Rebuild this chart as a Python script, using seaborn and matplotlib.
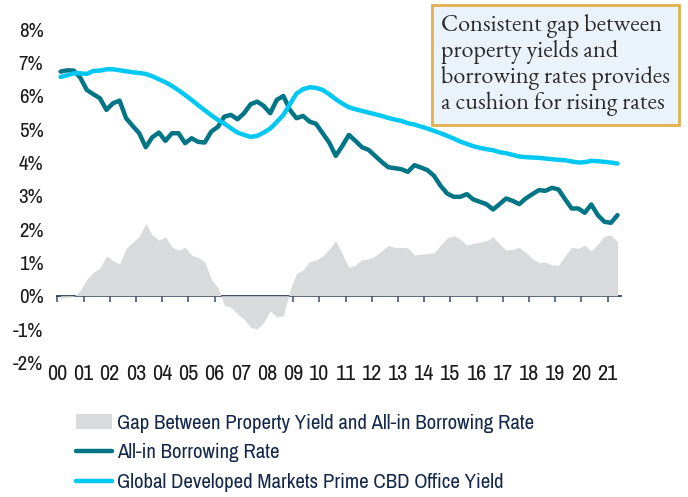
import numpy as np
import pandas as pd
import seaborn as sns
import matplotlib.pyplot as plt
from matplotlib.patches import Patch
from matplotlib.lines import Line2D

# quarterly series 2000Q1 - 2021Q2 (values in %)
quarters = 2000.125 + 0.25 * np.arange(86)

borrowing_rate = [
    6.73, 6.77, 6.76, 6.55,  # 2000
    6.18, 6.05, 5.93, 5.58,  # 2001
    5.78, 5.86, 5.33, 5.10,  # 2002
    4.88, 4.46, 4.76, 4.90,  # 2003
    4.65, 4.88, 4.88, 4.58,  # 2004
    4.73, 4.62, 4.60, 4.93,  # 2005
    5.07, 5.38, 5.43, 5.30,  # 2006
    5.48, 5.75, 5.83, 5.70,  # 2007
    5.48, 5.88, 6.00, 5.58,  # 2008
    5.33, 5.40, 5.23, 5.16,  # 2009
    4.88, 4.60, 4.20, 4.50,  # 2010
    4.83, 4.65, 4.46, 4.38,  # 2011
    4.20, 4.02, 3.86, 3.83,  # 2012
    3.80, 3.72, 3.92, 3.85,  # 2013
    3.77, 3.60, 3.30, 3.07,  # 2014
    2.97, 2.97, 3.05, 2.89,  # 2015
    2.82, 2.75, 2.59, 2.75,  # 2016
    2.92, 2.85, 2.75, 2.92,  # 2017
    3.05, 3.17, 3.15, 3.24,  # 2018
    3.19, 2.90, 2.62, 2.62,  # 2019
    2.49, 2.74, 2.42, 2.22,  # 2020
    2.19, 2.42,              # 2021
]

office_yield = [
    6.57, 6.62, 6.68, 6.68,
    6.66, 6.75, 6.76, 6.80,
    6.80, 6.77, 6.74, 6.71,
    6.69, 6.66, 6.59, 6.50,
    6.41, 6.30, 6.17, 6.03,
    5.88, 5.72, 5.57, 5.42,
    5.28, 5.17, 5.03, 4.90,
    4.83, 4.77, 4.80, 4.90,
    5.02, 5.22, 5.43, 5.75,
    6.07, 6.20, 6.26, 6.24,
    6.18, 6.05, 5.90, 5.77,
    5.66, 5.60, 5.55, 5.50,
    5.45, 5.40, 5.34, 5.29,
    5.25, 5.18, 5.14, 5.08,
    5.02, 4.95, 4.88, 4.80,
    4.72, 4.63, 4.56, 4.49,
    4.44, 4.40, 4.37, 4.31,
    4.28, 4.23, 4.18, 4.16,
    4.15, 4.14, 4.12, 4.10,
    4.08, 4.07, 4.03, 4.00,
    4.01, 4.05, 4.04, 4.02,
    4.00, 3.97,
]

gap = [
    -0.08, -0.05, -0.02, 0.15,
    0.49, 0.70, 0.83, 1.19,
    1.05, 0.95, 1.42, 1.60,
    1.78, 2.17, 1.82, 1.67,
    1.77, 1.47, 1.37, 1.45,
    1.22, 1.15, 1.02, 0.50,
    0.25, -0.28, -0.35, -0.55,
    -0.70, -0.95, -1.00, -0.80,
    -0.46, -0.63, -0.60, 0.15,
    0.67, 0.77, 1.02, 1.07,
    1.19, 1.40, 1.66, 1.25,
    0.85, 0.92, 1.09, 1.10,
    1.19, 1.35, 1.51, 1.45,
    1.45, 1.44, 1.22, 1.25,
    1.26, 1.29, 1.52, 1.74,
    1.80, 1.70, 1.52, 1.57,
    1.61, 1.65, 1.77, 1.55,
    1.37, 1.39, 1.45, 1.30,
    1.12, 0.99, 1.01, 0.92,
    0.92, 1.20, 1.45, 1.42,
    1.52, 1.34, 1.55, 1.79,
    1.82, 1.62,
]

years = list(range(2000, 2022))
year_labels = [f"{y % 100:02d}" for y in years]
y_ticks = list(range(-2, 9))
y_labels = [f"{t}%" for t in y_ticks]

gap_label = 'Gap Between Property Yield and All-in Borrowing Rate'
borrow_label = 'All-in Borrowing Rate'
yield_label = 'Global Developed Markets Prime CBD Office Yield'
note = ('Consistent gap between\nproperty yields and\n'
        'borrowing rates provides\na cushion for rising rates')

df = pd.DataFrame({'quarter': quarters, 'borrow': borrowing_rate,
                   'yield': office_yield, 'gap': gap})

sns.set_theme(style='white')
plt.rcParams['font.family'] = ['Archivo Narrow', 'Liberation Sans', 'DejaVu Sans']

c_borrow = '#007586'
c_yield = '#00C8F2'
c_gap = '#D9DADC'
c_axis = '#1C2E4E'
c_text = '#1A1A1A'

fig = plt.figure(figsize=(6.88, 4.97), dpi=100)
ax = fig.add_axes([0.0833, 0.271, 0.819, 0.670])

ax.fill_between(df['quarter'], df['gap'], 0, color=c_gap, lw=0, zorder=1)
sns.lineplot(data=df, x='quarter', y='borrow', color=c_borrow, lw=3.2, ax=ax, zorder=3)
sns.lineplot(data=df, x='quarter', y='yield', color=c_yield, lw=3.2, ax=ax, zorder=4)

ax.set_xlim(2000, 2021.5)
ax.set_ylim(-2, 8)
ax.set_yticks(y_ticks)
ax.set_yticklabels(y_labels, fontsize=15, color=c_text)
ax.set_xticks(years)
ax.set_xticklabels(year_labels, fontsize=16, color=c_text)
ax.tick_params(axis='both', length=0)
ax.tick_params(axis='y', pad=10)
ax.tick_params(axis='x', pad=1)
ax.set_xlabel('')
ax.set_ylabel('')
for s in ax.spines.values():
    s.set_visible(False)

# zero line with year ticks
zero_axis = ax.secondary_xaxis(0.2)
zero_axis.set_xticks(years)
zero_axis.tick_params(axis='x', direction='out', length=4, width=1.2,
                      color='#4A5A78', labelbottom=False)
zero_axis.spines['bottom'].set_color(c_axis)
zero_axis.spines['bottom'].set_linewidth(1.2)
for k in ['top', 'left', 'right']:
    zero_axis.spines[k].set_visible(False)

# annotation box
fig.text(0.641, 0.973, note, ha='left', va='top', fontsize=17.4,
         family=['EB Garamond', 'Liberation Serif'], color='#2A2A2A', linespacing=1.12,
         bbox=dict(boxstyle='square,pad=0.36', fc='#EAF3FA', ec='#E3B04B', lw=2))

handles = [Patch(facecolor=c_gap, edgecolor='none', label=gap_label),
           Line2D([], [], color=c_borrow, lw=3.2, label=borrow_label),
           Line2D([], [], color=c_yield, lw=3.2, label=yield_label)]
fig.legend(handles=handles, loc='upper left', bbox_to_anchor=(0.110, 0.168),
           frameon=False, fontsize=15, labelcolor='#14284B',
           handlelength=1.75, handletextpad=0.25, labelspacing=0.52,
           borderaxespad=0, borderpad=0)

fig.savefig('out.png', dpi=100)
